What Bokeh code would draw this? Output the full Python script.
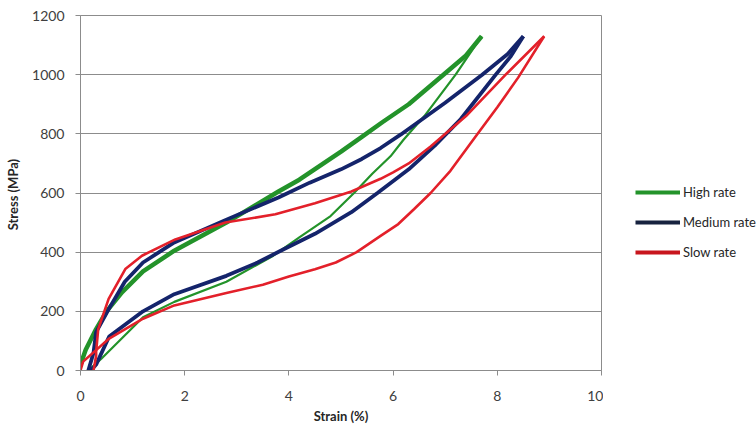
from bokeh.plotting import figure
from bokeh.models import Range1d, FixedTicker, Legend, LegendItem
from bokeh.layouts import row
from bokeh.embed import file_html
from bokeh.resources import INLINE

# ---- data (strain %, stress MPa) ----
high_up_x = [0.0, 0.1, 0.3, 0.5, 0.8, 1.2, 1.8, 2.8, 3.8, 4.2, 5.0, 5.4, 5.8, 6.3, 7.0, 7.4, 7.7]
high_up_y = [20, 70, 140, 200, 265, 335, 405, 500, 605, 645, 740, 790, 840, 900, 1005, 1065, 1130]
high_dn_x = [0.15, 0.4, 0.8, 1.2, 1.8, 2.8, 3.7, 4.2, 4.8, 5.25, 5.6, 5.95, 6.2, 6.6, 7.2, 7.7]
high_dn_y = [0, 40, 110, 180, 232, 300, 388, 450, 522, 600, 665, 724, 780, 860, 1000, 1130]

med_up_x = [0.15, 0.25, 0.3, 0.55, 0.85, 1.2, 1.8, 2.8, 3.8, 4.4, 5.0, 5.4, 5.76, 6.15, 7.0, 7.71, 8.2, 8.5]
med_up_y = [0, 60, 130, 210, 300, 365, 433, 510, 585, 635, 680, 715, 752, 798, 905, 1000, 1070, 1130]
med_dn_x = [0.2, 0.3, 0.55, 1.2, 1.8, 2.8, 3.4, 3.9, 4.5, 5.2, 5.7, 6.3, 6.8, 7.3, 7.97, 8.25, 8.5]
med_dn_y = [0, 20, 115, 200, 258, 320, 365, 410, 462, 535, 600, 680, 760, 850, 1000, 1060, 1130]

slow_up_x = [0.25, 0.3, 0.3, 0.34, 0.54, 0.86, 1.18, 1.82, 2.78, 3.74, 4.5, 5.2, 5.76, 6.0, 6.3, 6.72, 7.4, 8.16, 8.9]
slow_up_y = [0, 50, 63, 140, 242, 343, 388, 443, 500, 528, 565, 605, 648, 670, 700, 757, 860, 1000, 1130]
slow_dn_x = [0.0, 0.05, 0.55, 1.2, 1.8, 2.8, 3.5, 4.0, 4.5, 4.9, 5.3, 5.76, 6.1, 6.4, 6.72, 7.1, 7.58, 8.0, 8.4, 8.9]
slow_dn_y = [0, 30, 108, 175, 220, 262, 290, 318, 342, 365, 400, 455, 495, 545, 600, 675, 790, 890, 990, 1130]

series_names = ["High rate", "Medium rate", "Slow rate"]
x_ticks = [0, 2, 4, 6, 8, 10]
y_ticks = [0, 200, 400, 600, 800, 1000, 1200]

GREEN = "#23932a"
NAVY = "#14246b"
RED = "#e3202a"
FONT = "Lato"

p = figure(width=603, height=426, output_backend="svg", toolbar_location=None,
           x_range=Range1d(0, 10), y_range=Range1d(0, 1200),
           min_border_left=80, min_border_right=2, min_border_top=15, min_border_bottom=54)
p.outline_line_color = "#8c8c8c"
p.outline_line_width = 1
p.xgrid.grid_line_color = None
p.ygrid.grid_line_color = "#8c8c8c"
p.ygrid.grid_line_width = 1

for ax in (p.xaxis[0], p.yaxis[0]):
    ax.axis_line_color = "#8c8c8c"
    ax.major_tick_line_color = "#8c8c8c"
    ax.minor_tick_line_color = None
    ax.major_tick_in = 0
    ax.major_tick_out = 5
    ax.major_label_text_font = FONT
    ax.major_label_text_font_size = "14px"
    ax.major_label_text_color = "#404040"
    ax.axis_label_text_font = FONT
    ax.axis_label_text_font_size = "13px"
    ax.axis_label_text_font_style = "bold"
    ax.axis_label_text_color = "#262626"

p.xaxis.ticker = FixedTicker(ticks=x_ticks)
p.yaxis.ticker = FixedTicker(ticks=y_ticks)
p.xaxis.axis_label = "Strain (%)"
p.yaxis.axis_label = "Stress  (MPa)"
p.xaxis.major_label_standoff = 15
p.xaxis.axis_label_standoff = 4
p.yaxis.major_label_standoff = 11
p.yaxis.axis_label_standoff = 8

p.line(high_up_x, high_up_y, line_color=GREEN, line_width=4.5)
p.line(high_dn_x, high_dn_y, line_color=GREEN, line_width=2.2)
p.line(med_up_x, med_up_y, line_color=NAVY, line_width=3.8)
p.line(med_dn_x, med_dn_y, line_color=NAVY, line_width=3.8)
p.line(slow_up_x, slow_up_y, line_color=RED, line_width=2.6)
p.line(slow_dn_x, slow_dn_y, line_color=RED, line_width=2.6)

# legend panel to the right of the chart (its own lines lie outside its ranges)
q = figure(width=153, height=426, output_backend="svg", toolbar_location=None,
           x_range=Range1d(100, 101), y_range=Range1d(0, 1),
           x_axis_location=None, y_axis_location=None, min_border=0)
q.outline_line_color = None
q.grid.grid_line_color = None
lh = q.line(high_up_x, high_up_y, line_color=GREEN, line_width=4)
lm = q.line(med_up_x, med_up_y, line_color="#17223f", line_width=4)
ls = q.line(slow_up_x, slow_up_y, line_color="#c8151d", line_width=4)

legend = Legend(items=[
    LegendItem(label=series_names[0], renderers=[lh]),
    LegendItem(label=series_names[1], renderers=[lm]),
    LegendItem(label=series_names[2], renderers=[ls]),
], location=(32, 108))
legend.border_line_color = None
legend.background_fill_alpha = 0
legend.padding = 0
legend.margin = 0
legend.spacing = 10
legend.glyph_width = 45
legend.glyph_height = 20
legend.label_height = 20
legend.label_standoff = 3
legend.label_text_font = FONT
legend.label_text_font_size = "13px"
legend.label_text_color = "#262626"
q.add_layout(legend, "center")

open("out.html", "w").write(file_html(row(p, q), INLINE))
